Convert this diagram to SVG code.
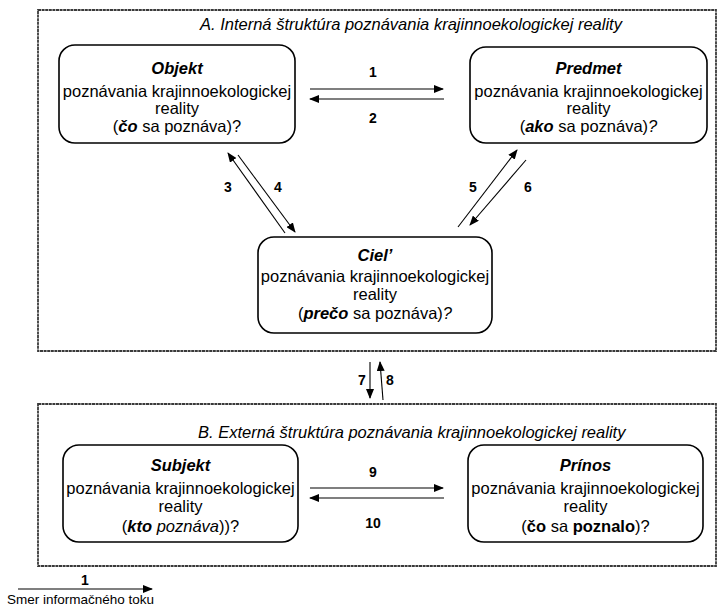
<svg xmlns="http://www.w3.org/2000/svg" width="718" height="607" viewBox="0 0 718 607">
<defs>
<marker id="ah" markerUnits="userSpaceOnUse" markerWidth="10" markerHeight="8" refX="9" refY="4" orient="auto">
<path d="M0,0 L10,4 L0,8 Z" fill="#000"/>
</marker>
<style>
text{font-family:"Liberation Sans",Arial,sans-serif;fill:#000}
.frame{fill:none;stroke:#3a3a3a;stroke-width:1.8;stroke-dasharray:3 0.6}
.node{fill:#fff;stroke:#000;stroke-width:1.6}
.t{font-size:16.5px;text-anchor:middle}
.ttl{font-size:16.5px;font-style:italic}
.lbl{font-size:14px;font-weight:bold;text-anchor:middle}
.c{stroke:#000;stroke-width:1.1;fill:none;marker-end:url(#ah)}
.bi{font-weight:bold;font-style:italic}
.b{font-weight:bold}
.i{font-style:italic}
</style>
</defs>
<g id="frameA">
<rect class="frame" x="38" y="10" width="678" height="341"/>
<text class="ttl" x="200" y="30">A. Interná štruktúra poznávania krajinnoekologickej reality</text>
</g>
<g id="frameB">
<rect class="frame" x="38" y="404" width="678" height="162"/>
<text class="ttl" x="198" y="438">B. Externá štruktúra poznávania krajinnoekologickej reality</text>
</g>
<g id="objekt">
<rect class="node" x="59" y="45" width="236" height="98" rx="16"/>
<text class="t" x="177" y="74"><tspan class="bi">Objekt</tspan></text>
<text class="t" x="177" y="97">poznávania krajinnoekologickej</text>
<text class="t" x="177" y="114">reality</text>
<text class="t" x="177" y="132">(<tspan class="bi">čo</tspan> sa poznáva)?</text>
</g>
<g id="predmet">
<rect class="node" x="470" y="47" width="237" height="96" rx="16"/>
<text class="t" x="588.5" y="74"><tspan class="bi">Predmet</tspan></text>
<text class="t" x="588.5" y="97">poznávania krajinnoekologickej</text>
<text class="t" x="588.5" y="114">reality</text>
<text class="t" x="588.5" y="132">(<tspan class="bi">ako</tspan> sa poznáva)<tspan class="i">?</tspan></text>
</g>
<g id="ciel">
<rect class="node" x="258" y="237" width="234" height="96" rx="16"/>
<text class="t" x="375" y="261"><tspan class="bi">Ciel’</tspan></text>
<text class="t" x="375" y="282">poznávania krajinnoekologickej</text>
<text class="t" x="375" y="300">reality</text>
<text class="t" x="375" y="319">(<tspan class="bi">prečo</tspan> sa poznáva)<tspan class="i">?</tspan></text>
</g>
<g id="subjekt">
<rect class="node" x="63" y="445" width="235" height="97" rx="16"/>
<text class="t" x="180.5" y="471"><tspan class="bi">Subjekt</tspan></text>
<text class="t" x="180.5" y="494">poznávania krajinnoekologickej</text>
<text class="t" x="180.5" y="512">reality</text>
<text class="t" x="180.5" y="532">(<tspan class="bi">kto</tspan> <tspan class="i">poznáva</tspan>))?</text>
</g>
<g id="prinos">
<rect class="node" x="468" y="445" width="235" height="97" rx="16"/>
<text class="t" x="585.5" y="471"><tspan class="bi">Prínos</tspan></text>
<text class="t" x="585.5" y="494">poznávania krajinnoekologickej</text>
<text class="t" x="585.5" y="512">reality</text>
<text class="t" x="585.5" y="532">(<tspan class="b">čo</tspan> sa <tspan class="b">poznalo</tspan>)?</text>
</g>
<g id="connectors">
<line class="c" x1="310" y1="89" x2="443" y2="89"/>
<line class="c" x1="444" y1="99" x2="310" y2="99"/>
<line class="c" x1="285" y1="233" x2="228" y2="153"/>
<line class="c" x1="238" y1="155" x2="295" y2="232"/>
<line class="c" x1="458" y1="227" x2="517" y2="150"/>
<line class="c" x1="526" y1="160" x2="470" y2="225"/>
<line class="c" x1="370" y1="362" x2="370" y2="398"/>
<line class="c" x1="383" y1="400" x2="380" y2="362"/>
<line class="c" x1="310" y1="488" x2="443" y2="488"/>
<line class="c" x1="444" y1="498" x2="310" y2="498"/>
<line class="c" x1="18" y1="589" x2="152" y2="589"/>
<text class="lbl" x="373" y="77">1</text>
<text class="lbl" x="373" y="123">2</text>
<text class="lbl" x="228" y="192">3</text>
<text class="lbl" x="278" y="192">4</text>
<text class="lbl" x="473" y="192">5</text>
<text class="lbl" x="528" y="192">6</text>
<text class="lbl" x="362" y="385">7</text>
<text class="lbl" x="390" y="385">8</text>
<text class="lbl" x="373" y="477">9</text>
<text class="lbl" x="373" y="528">10</text>
<text class="lbl" x="85" y="585">1</text>
</g>
<g id="legend">
<text x="7" y="603.5" style="font-size:13.5px">Smer informačného toku</text>
</g>
</svg>
